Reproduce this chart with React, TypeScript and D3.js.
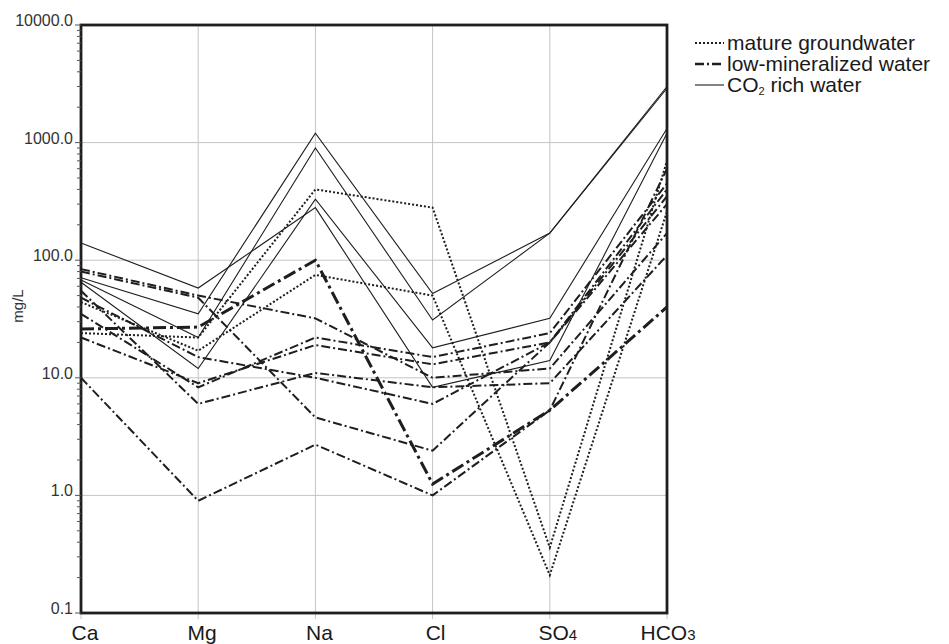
import React from "react";
import * as d3 from "d3";

const ions = ["Ca", "Mg", "Na", "Cl", "SO4", "HCO3"];
const yTickValues = [0.1, 1, 10, 100, 1000, 10000];
const yTickLabels = ["0.1", "1.0", "10.0", "100.0", "1000.0", "10000.0"];

// mature groundwater (dotted), mg/L for Ca, Mg, Na, Cl, SO4, HCO3
const matureGroundwater = [
  [24, 22, 400, 280, 0.36, 700],
  [44, 17, 75, 50, 0.21, 260],
];

// low-mineralized water (dash-dot)
const lowMineralized = [
  [10, 0.9, 2.7, 1.0, 5.3, 600],
  [84, 50, 32, 10, 12, 170],
  [80, 48, 4.6, 2.4, 20, 350],
  [48, 15, 10, 6, 20, 400],
  [35, 8.3, 22, 15, 24, 450],
  [22, 9, 19, 13, 20, 300],
  [55, 6, 11, 8.3, 9, 110],
];
// the heavier dash-dot sample
const lowMineralizedBold = [[26, 27, 100, 1.25, 5.3, 40]];

// CO2 rich water (solid)
const co2Rich = [
  [140, 58, 280, 8.3, 14, 1200],
  [71, 35, 1200, 52, 170, 3000],
  [68, 22, 900, 31, 170, 2900],
  [65, 12, 330, 18, 32, 1320],
];

const legendItems = ["mature groundwater", "low-mineralized water", "CO2 rich water"];

const FONT = "'Liberation Sans', Arial, Helvetica, sans-serif";
const INK = "#1e1e1e";

export default function App() {
  const width = 949;
  const height = 644;
  const plot = { left: 81, right: 667, top: 25, bottom: 613 };

  const x = d3.scalePoint<string>().domain(ions).range([plot.left, plot.right]);
  const y = d3.scaleLog().domain([0.1, 10000]).range([plot.bottom, plot.top]);

  const line = d3
    .line<number>()
    .x((_, i) => x(ions[i]) as number)
    .y((d) => y(d));

  // minor ticks on the log axis
  const minorTicks: number[] = [];
  yTickValues.slice(0, -1).forEach((d) => {
    for (let k = 2; k <= 9; k++) minorTicks.push(d * k);
  });

  const subscript = (label: string) => {
    const m = label.match(/^(.*?)(\d)$/);
    if (!m) return label;
    return (
      <>
        {m[1]}
        <tspan fontSize={15}>{m[2]}</tspan>
      </>
    );
  };

  const labelShift: Record<string, number> = { Ca: 4, Mg: 4, Na: 4, Cl: 3, SO4: 8, HCO3: 1 };

  return (
    <svg
      width={width}
      height={height}
      style={{ position: "absolute", left: 0, top: 0, background: "#fff" }}
      fontFamily={FONT}
    >
      {/* grid */}
      <g stroke="#c4c4c4" strokeWidth={1}>
        {ions.map((ion) => (
          <line key={ion} x1={x(ion)} x2={x(ion)} y1={plot.top} y2={plot.bottom + 6} />
        ))}
        {yTickValues.slice(1, -1).map((v) => (
          <line key={v} x1={plot.left} x2={plot.right} y1={y(v)} y2={y(v)} />
        ))}
      </g>

      {/* samples */}
      <g fill="none" stroke={INK} strokeLinejoin="miter">
        {co2Rich.map((d, i) => (
          <path key={"c" + i} d={line(d) ?? ""} strokeWidth={1.1} />
        ))}
        {matureGroundwater.map((d, i) => (
          <path key={"m" + i} d={line(d) ?? ""} strokeWidth={2} strokeDasharray="2 2" />
        ))}
        {lowMineralized.map((d, i) => (
          <path key={"l" + i} d={line(d) ?? ""} strokeWidth={2} strokeDasharray="9 3 2 3" />
        ))}
        {lowMineralizedBold.map((d, i) => (
          <path key={"b" + i} d={line(d) ?? ""} strokeWidth={3} strokeDasharray="13 4 3 4" />
        ))}
      </g>

      {/* frame */}
      <rect
        x={plot.left}
        y={plot.top}
        width={plot.right - plot.left}
        height={plot.bottom - plot.top}
        fill="none"
        stroke={INK}
        strokeWidth={2.8}
      />

      {/* y axis ticks and labels */}
      <g stroke="#555" strokeWidth={1}>
        {minorTicks.map((v) => (
          <line key={v} x1={plot.left - 4} x2={plot.left} y1={y(v)} y2={y(v)} />
        ))}
        {yTickValues.map((v) => (
          <line key={v} x1={plot.left - 6} x2={plot.left} y1={y(v)} y2={y(v)} />
        ))}
      </g>
      <g fontSize={16} fill="#333" textAnchor="end">
        {yTickValues.map((v, i) => (
          <text key={v} x={73} y={y(v) + 1}>
            {yTickLabels[i]}
          </text>
        ))}
      </g>
      <text
        transform={`translate(23,306) rotate(-90)`}
        textAnchor="middle"
        fontSize={15}
        fill="#333"
      >
        mg/L
      </text>

      {/* x labels */}
      <g fontSize={21} fill="#1a1a1a" textAnchor="middle">
        {ions.map((ion) => (
          <text key={ion} x={(x(ion) as number) + labelShift[ion]} y={640}>
            {subscript(ion)}
          </text>
        ))}
      </g>

      {/* legend */}
      <g transform="translate(695,0)">
        <line x1={0} x2={29} y1={43} y2={43} stroke={INK} strokeWidth={2} strokeDasharray="2 2" />
        <line x1={0} x2={29} y1={64} y2={64} stroke={INK} strokeWidth={2.4} strokeDasharray="9 3 2 3" />
        <line x1={0} x2={29} y1={85} y2={85} stroke={INK} strokeWidth={1.1} />
        <g fontSize={21} fill="#1a1a1a">
          <text x={32} y={50}>{legendItems[0]}</text>
          <text x={32} y={71}>{legendItems[1]}</text>
          <text x={32} y={92}>
            CO<tspan fontSize={11} dy={3}>2</tspan>
            <tspan dy={-3}> rich water</tspan>
          </text>
        </g>
      </g>
    </svg>
  );
}
